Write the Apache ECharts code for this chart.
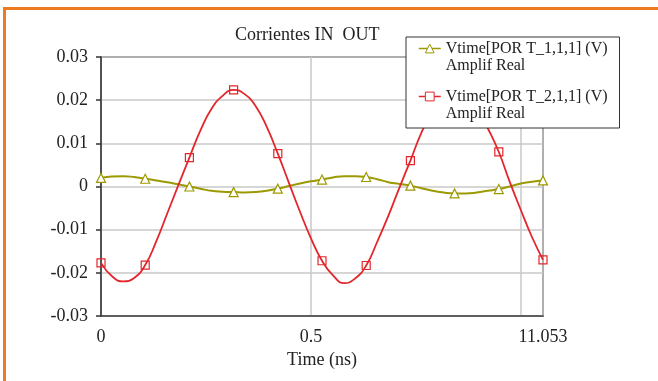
<!DOCTYPE html>
<html>
<head>
<meta charset="utf-8">
<script src="https://cdn.jsdelivr.net/npm/echarts@6/dist/echarts.min.js"></script>
<style>
html,body{margin:0;padding:0;background:#fff;}
#chart{width:658px;height:381px;}
</style>
</head>
<body>
<div id="chart"></div>
<script>
// Time samples (ns)
var TIME = [0, 0.0263, 0.0527, 0.079, 0.1053, 0.1316, 0.158, 0.1843, 0.2106, 0.2369,
            0.2633, 0.2896, 0.3159, 0.3422, 0.3686, 0.3949, 0.4212, 0.4475, 0.4739, 0.5002,
            0.5265, 0.5528, 0.5792, 0.6055, 0.6318, 0.6581, 0.6845, 0.7108, 0.7371, 0.7634,
            0.7898, 0.8161, 0.8424, 0.8687, 0.8951, 0.9214, 0.9477, 0.974, 1.0004, 1.0267, 1.053];
// Vtime[POR T_1,1,1] (V)
var PORT1 = [0.0020, 0.0023, 0.0024, 0.0022, 0.0018, 0.0014, 0.0010, 0.0005, 0.0000, -0.0005,
             -0.0010, -0.0012, -0.0013, -0.0014, -0.0013, -0.0010, -0.0005, 0.0001, 0.0007, 0.0012,
             0.0016, 0.0021, 0.0024, 0.0024, 0.0022, 0.0017, 0.0010, 0.0006, 0.0002, -0.0004,
             -0.0010, -0.0014, -0.0016, -0.0016, -0.0014, -0.0010, -0.0006, 0.0000, 0.0007, 0.0011, 0.0014];
// Vtime[POR T_2,1,1] (V)
var PORT2 = [-0.0177, -0.0208, -0.0220, -0.0212, -0.0182, -0.0127, -0.0062, 0.0003, 0.0067, 0.0130,
             0.0180, 0.0210, 0.0224, 0.0214, 0.0186, 0.0138, 0.0076, 0.0009, -0.0058, -0.0120,
             -0.0172, -0.0206, -0.0224, -0.0213, -0.0183, -0.0128, -0.0068, -0.0003, 0.0060, 0.0125,
             0.0175, 0.0210, 0.0224, 0.0212, 0.0182, 0.0135, 0.0080, 0.0010, -0.0055, -0.0117, -0.0170];
// every 4th sample carries a marker
var MARKER_EVERY = 4;
var NAMES = ['Vtime[POR T_1,1,1] (V)', 'Vtime[POR T_2,1,1] (V)'];
var SUBTITLE = 'Amplif Real';
var X_LABELS = {'0': '0', '0.5': '0.5', '1': '', '1.053': '11.053'};

var OLIVE = '#9c9a00';
var RED = '#e3262b';
var FONT = '"Liberation Serif", "Times New Roman", serif';

function build(vals) {
  return TIME.map(function (t, i) {
    var item = {value: [t, vals[i]]};
    if (i % MARKER_EVERY !== 0) item.symbol = 'none';
    return item;
  });
}

var chart = echarts.init(document.getElementById('chart'), null, {renderer: 'canvas'});
chart.setOption({
  backgroundColor: '#fff',
  animation: false,
  title: {
    text: 'Corrientes IN  OUT',
    left: 235, top: 26, padding: 0,
    textStyle: {fontFamily: FONT, fontSize: 18, fontWeight: 'normal', color: '#222'}
  },
  legend: {
    orient: 'vertical',
    left: 406, top: 37,
    padding: [-14, 12, 6, 12],
    itemGap: -3,
    itemWidth: 22, itemHeight: 11,
    backgroundColor: '#fff',
    borderColor: '#333', borderWidth: 1,
    selectedMode: false,
    formatter: function (n) { return '\n' + n + '\n' + SUBTITLE; },
    textStyle: {fontFamily: FONT, fontSize: 16, lineHeight: 17, color: '#222'},
    data: [
      {name: NAMES[0], itemStyle: {color: '#fff', borderColor: OLIVE, borderWidth: 1}, lineStyle: {color: OLIVE, width: 1.5}},
      {name: NAMES[1], itemStyle: {color: '#fff', borderColor: RED, borderWidth: 1}, lineStyle: {color: RED, width: 1.5}}
    ]
  },
  grid: {
    left: 101, top: 57, right: 115, bottom: 65,
    show: true, borderColor: '#333', borderWidth: 1.5,
    containLabel: false
  },
  xAxis: {
    type: 'value', min: 0, max: 1.053, interval: 0.5,
    name: 'Time (ns)', nameLocation: 'middle', nameGap: 30,
    nameTextStyle: {fontFamily: FONT, fontSize: 18, color: '#222'},
    axisLine: {show: true, onZero: false, lineStyle: {color: '#444', width: 1.5}},
    axisTick: {show: false},
    splitLine: {show: true, lineStyle: {color: '#c9c9c9', width: 1.5}},
    axisLabel: {
      fontFamily: FONT, fontSize: 18, color: '#222', margin: 12,
      showMinLabel: true, showMaxLabel: true, hideOverlap: false,
      formatter: function (v) {
        var k = String(Math.round(v * 1000) / 1000);
        return (k in X_LABELS) ? X_LABELS[k] : '';
      }
    }
  },
  yAxis: {
    type: 'value', min: -0.03, max: 0.03, interval: 0.01,
    axisLine: {show: true, onZero: false, lineStyle: {color: '#333', width: 1.5}},
    axisTick: {show: true, inside: false, length: 5, lineStyle: {color: '#333', width: 1.5}},
    splitLine: {show: true, lineStyle: {color: '#c9c9c9', width: 1.5}},
    axisLabel: {
      fontFamily: FONT, fontSize: 18, color: '#222', margin: 13,
      formatter: function (v) {
        var r = Math.round(v * 100) / 100;
        return r === 0 ? '0' : String(r);
      }
    }
  },
  series: [
    {
      name: NAMES[0], type: 'line', smooth: 0.5,
      data: build(PORT1),
      symbol: 'triangle', symbolSize: 9,
      itemStyle: {color: '#fff', borderColor: OLIVE, borderWidth: 1.2},
      lineStyle: {color: OLIVE, width: 2},
      z: 3
    },
    {
      name: NAMES[1], type: 'line', smooth: 0.5,
      data: build(PORT2),
      symbol: 'rect', symbolSize: 8,
      itemStyle: {color: 'rgba(255,255,255,0)', borderColor: RED, borderWidth: 1.2},
      lineStyle: {color: RED, width: 1.8},
      z: 3
    }
  ],
  graphic: [
    {type: 'rect', left: 3, top: 7, shape: {width: 655, height: 3}, style: {fill: '#ee7a22'}, silent: true},
    {type: 'rect', left: 3, top: 7, shape: {width: 3, height: 374}, style: {fill: '#ee7a22'}, silent: true}
  ]
});
</script>
</body>
</html>
